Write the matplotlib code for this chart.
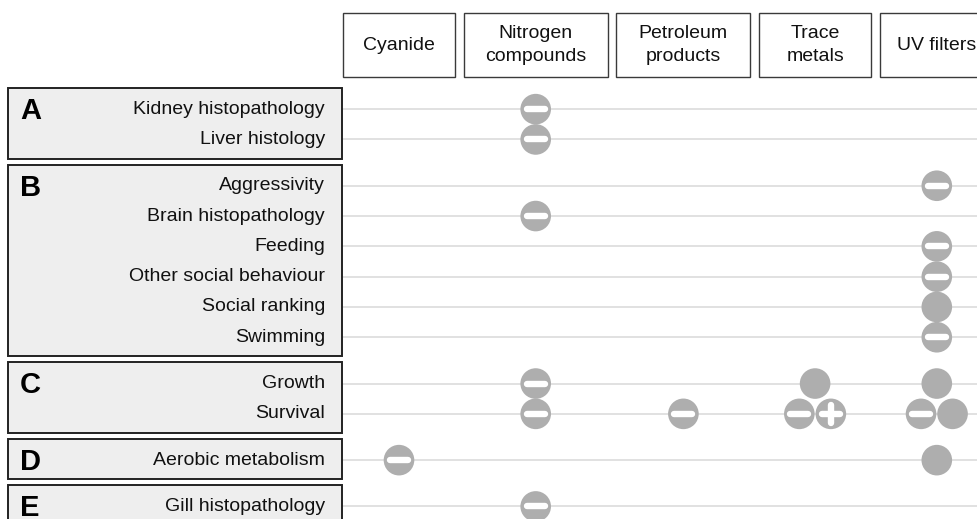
import matplotlib.pyplot as plt
from matplotlib.patches import Rectangle, Circle

plt.rcParams['font.family'] = ['Liberation Sans', 'DejaVu Sans']

# data
contaminants = ["Cyanide", "Nitrogen\ncompounds", "Petroleum\nproducts", "Trace\nmetals", "UV filters"]
group_letters = ["A", "B", "C", "D", "E"]
group_outcomes = [
    ["Kidney histopathology", "Liver histology"],
    ["Aggressivity", "Brain histopathology", "Feeding", "Other social behaviour",
     "Social ranking", "Swimming"],
    ["Growth", "Survival"],
    ["Aerobic metabolism"],
    ["Gill histopathology"],
]
# one entry per marked cell; signs: '-' negative, '+' positive, 'o' plain dot
effect_outcome = ["Kidney histopathology", "Liver histology", "Aggressivity",
                  "Brain histopathology", "Feeding", "Other social behaviour",
                  "Social ranking", "Swimming",
                  "Growth", "Growth", "Growth",
                  "Survival", "Survival", "Survival", "Survival",
                  "Aerobic metabolism", "Aerobic metabolism",
                  "Gill histopathology"]
effect_contaminant = [1, 1, 4,
                      1, 4, 4,
                      4, 4,
                      1, 3, 4,
                      1, 2, 3, 4,
                      0, 4,
                      1]
effect_signs = [["-"], ["-"], ["-"],
                ["-"], ["-"], ["-"],
                ["o"], ["-"],
                ["-"], ["o"], ["o"],
                ["-"], ["-"], ["-", "+"], ["-", "o"],
                ["-"], ["o"],
                ["-"]]

# layout
W, H = 978, 519
col_left0 = 343
col_widths = [112, 144, 134, 112, 114]
col_gap = 8.7
head_top, head_bot = 13, 77
box_left, box_right = 8, 342
box_top0 = 88
pitch = 30.3
pad = 10
box_gap = 6
r = 15.3
dot_col = "#aeaeae"
line_col = "#d9d9d9"

fig = plt.figure(figsize=(W / 100, H / 100), dpi=100)
ax = fig.add_axes([0, 0, 1, 1])
ax.set_xlim(0, W)
ax.set_ylim(H, 0)
ax.axis("off")

# column headers
col_x = []
x = col_left0
for name, w in zip(contaminants, col_widths):
    ax.add_patch(Rectangle((x, head_top), w, head_bot - head_top, facecolor="white",
                           edgecolor="#3a3a3a", lw=1.0, zorder=2))
    ax.text(x + w / 2, (head_top + head_bot) / 2, name, ha="center", va="center",
            fontsize=14, color="#111111", linespacing=1.4, zorder=3)
    col_x.append(x + w / 2)
    x += w + col_gap

# row groups
row_y = {}
top = box_top0
for letter, outcomes in zip(group_letters, group_outcomes):
    h = pitch * len(outcomes) + pad
    ax.add_patch(Rectangle((box_left, top), box_right - box_left, h, facecolor="#eeeeee",
                           edgecolor="#222222", lw=1.4, zorder=2))
    ax.text(20, top + 31, letter, fontsize=21, fontweight="bold", ha="left",
            va="baseline", color="black", zorder=3)
    for i, name in enumerate(outcomes):
        y = top + pad / 2 + pitch * (i + 0.5) + 1
        row_y[name] = y
        ax.text(325, y, name, fontsize=14, ha="right", va="center", color="#111111", zorder=3)
        ax.plot([box_right + 1, W], [y, y], color=line_col, lw=1.1, zorder=1)
    top += h + box_gap

# effect markers
for outcome, ci, signs in zip(effect_outcome, effect_contaminant, effect_signs):
    y = row_y[outcome]
    n = len(signs)
    for k, s in enumerate(signs):
        cx = col_x[ci] + (k - (n - 1) / 2) * 31.5
        ax.add_patch(Circle((cx, y), r, facecolor=dot_col, edgecolor="none", zorder=4))
        if s in "-+":
            ax.plot([cx - 9, cx + 9], [y, y], color="white", lw=4.6,
                    solid_capstyle="round", zorder=5)
        if s == "+":
            ax.plot([cx, cx], [y - 9, y + 9], color="white", lw=4.6,
                    solid_capstyle="round", zorder=5)

fig.savefig("out.png", dpi=100)
